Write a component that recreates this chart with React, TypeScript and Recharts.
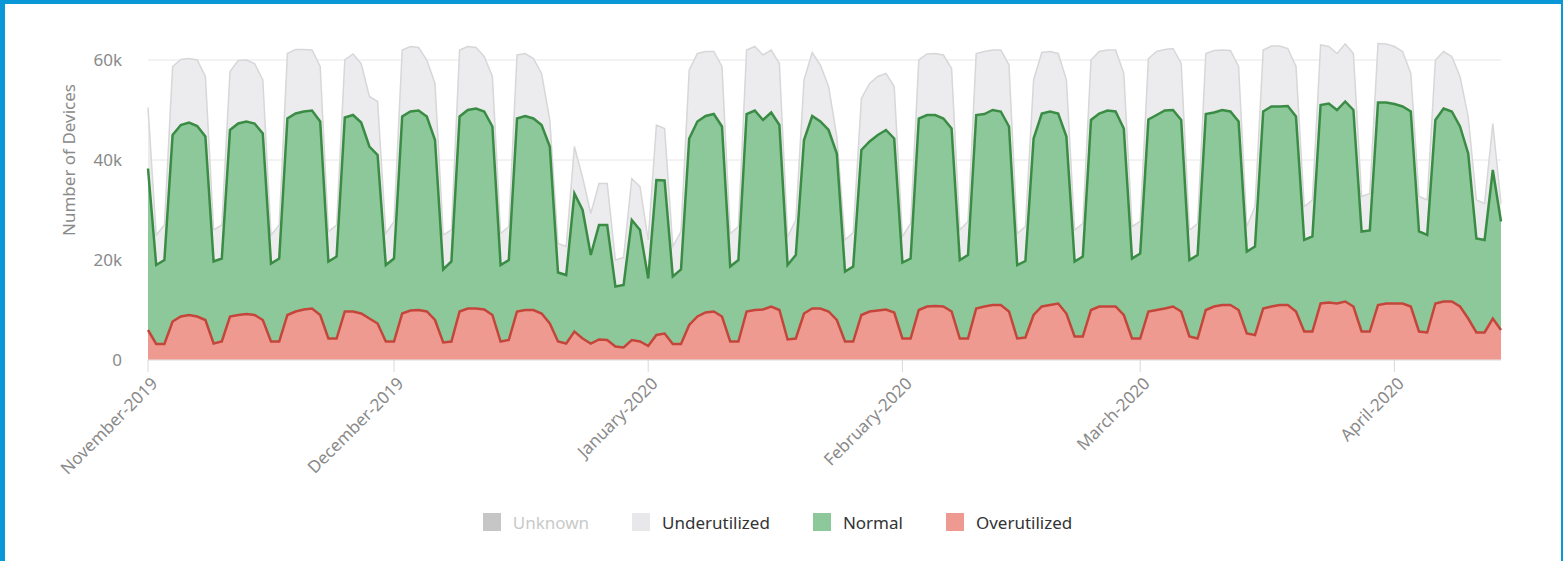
import { Area, AreaChart, CartesianGrid, Label, Legend, XAxis, YAxis } from "recharts";

// one point per day, 1 Nov 2019 .. 14 Apr 2020 (index = days since 1 Nov)
const MONTH_TICKS = [0, 30, 61, 92, 121, 152];
const MONTH_LABELS = [
  "November-2019",
  "December-2019",
  "January-2020",
  "February-2020",
  "March-2020",
  "April-2020",
];
const Y_TICKS = [0, 20000, 40000, 60000];

// thousands of devices per day
const OVERUTILIZED = [
  6.0, 3.2, 3.2, 7.7, 8.7, 9.0, 8.7, 8.0, 3.3, 3.7, 8.7, 9.0, 9.2, 9.0, 8.0, 3.7, 3.7, 9.0, 9.7, 10.1,
  10.3, 9.0, 4.3, 4.3, 9.7, 9.7, 9.3, 8.3, 7.3, 3.7, 3.7, 9.3, 9.9, 10.0, 9.7, 8.0, 3.5, 3.7, 9.7, 10.3,
  10.3, 10.1, 9.0, 3.7, 4.0, 9.7, 10.0, 10.0, 9.3, 7.3, 3.7, 3.3, 5.7, 4.3, 3.3, 4.1, 4.0, 2.7, 2.5, 4.0,
  3.7, 2.8, 5.0, 5.3, 3.2, 3.2, 7.0, 8.7, 9.5, 9.7, 8.7, 3.7, 3.7, 9.7, 10.0, 10.1, 10.7, 10.0, 4.1, 4.3,
  9.3, 10.3, 10.3, 9.7, 8.0, 3.7, 3.7, 9.0, 9.7, 9.9, 10.1, 9.5, 4.3, 4.3, 10.0, 10.7, 10.8, 10.7, 9.7, 4.3,
  4.3, 10.3, 10.7, 11.0, 11.0, 9.7, 4.3, 4.5, 9.0, 10.7, 11.0, 11.3, 9.3, 4.7, 4.7, 10.0, 10.7, 10.7, 10.7, 9.0,
  4.3, 4.3, 9.7, 10.0, 10.3, 10.7, 9.7, 4.7, 4.3, 10.0, 10.7, 11.0, 11.0, 10.0, 5.3, 5.0, 10.3, 10.7, 11.0, 11.0,
  9.7, 5.7, 5.7, 11.3, 11.5, 11.3, 11.7, 10.7, 5.7, 5.7, 11.0, 11.3, 11.3, 11.3, 10.7, 5.7, 5.5, 11.3, 11.7, 11.7,
  10.7, 8.3, 5.5, 5.5, 8.3, 6.0,
];
const NORMAL = [
  32.3, 15.8, 16.8, 37.3, 38.3, 38.5, 38.1, 36.7, 16.4, 16.6, 37.3, 38.3, 38.5, 38.3, 37.3, 15.6, 16.6, 39.3, 39.6, 39.6,
  39.6, 38.7, 15.4, 16.4, 38.8, 39.3, 38.2, 34.4, 33.7, 15.3, 16.6, 39.4, 39.8, 39.9, 39.0, 36.0, 14.6, 16.0, 39.0, 39.7,
  40.0, 39.6, 37.7, 15.3, 16.0, 38.6, 38.8, 38.3, 37.7, 35.4, 13.8, 13.7, 27.6, 25.7, 17.7, 22.9, 23.0, 12.0, 12.5, 24.0,
  22.3, 13.5, 31.0, 30.6, 13.5, 14.9, 37.3, 39.0, 39.3, 39.5, 38.0, 15.0, 16.3, 39.5, 39.9, 37.9, 38.8, 37.0, 14.9, 16.7,
  34.7, 38.5, 37.4, 36.3, 33.3, 14.0, 15.0, 33.0, 34.0, 35.1, 35.9, 34.8, 15.2, 16.0, 38.3, 38.3, 38.2, 37.6, 36.6, 15.7,
  16.7, 38.7, 38.5, 39.0, 38.7, 37.0, 14.7, 15.3, 35.3, 38.6, 38.7, 38.0, 35.4, 15.0, 16.0, 38.0, 38.6, 39.2, 39.0, 37.3,
  16.0, 17.0, 38.4, 39.0, 39.6, 39.3, 38.3, 15.3, 16.7, 39.2, 38.8, 39.0, 38.7, 37.7, 16.4, 17.7, 39.4, 40.0, 39.7, 39.8,
  39.0, 18.3, 19.0, 39.7, 39.8, 38.7, 40.0, 39.3, 20.0, 20.2, 40.5, 40.2, 39.9, 39.4, 39.0, 20.0, 19.5, 36.7, 38.6, 38.0,
  36.0, 33.0, 18.8, 18.5, 29.7, 21.7,
];
const UNDERUTILIZED = [
  12.2, 6.0, 7.0, 13.7, 13.1, 12.8, 13.2, 12.0, 6.3, 6.7, 11.7, 12.6, 12.3, 12.0, 10.7, 5.7, 6.7, 13.0, 12.8, 12.4,
  12.1, 11.0, 6.0, 6.3, 11.5, 12.2, 11.8, 10.0, 10.7, 6.3, 7.4, 13.3, 13.0, 12.6, 11.3, 11.3, 6.9, 6.3, 13.3, 12.7,
  12.2, 11.0, 10.0, 6.3, 6.7, 12.7, 12.5, 12.0, 10.3, 5.3, 5.8, 5.7, 9.4, 6.5, 8.3, 8.3, 8.3, 5.3, 5.5, 8.3,
  8.7, 7.7, 11.0, 10.4, 6.0, 7.6, 13.7, 13.6, 12.9, 12.5, 12.0, 6.6, 6.7, 12.8, 12.8, 13.0, 12.5, 12.3, 5.7, 7.0,
  12.0, 12.7, 11.3, 8.7, 3.4, 6.3, 6.8, 10.3, 11.6, 11.7, 11.3, 10.4, 5.2, 7.0, 11.7, 12.2, 12.3, 12.7, 12.0, 6.0,
  6.7, 12.3, 12.5, 12.0, 12.3, 12.3, 6.3, 6.9, 11.7, 12.2, 12.0, 12.0, 11.3, 6.3, 6.6, 12.0, 12.4, 12.1, 12.3, 11.0,
  6.4, 6.4, 12.2, 12.7, 12.2, 12.3, 11.3, 6.0, 6.3, 12.1, 12.4, 12.0, 12.2, 11.0, 5.0, 8.0, 12.3, 12.1, 12.1, 11.5,
  10.0, 6.7, 7.3, 12.0, 11.4, 11.3, 11.5, 11.3, 7.0, 7.4, 11.8, 11.7, 11.5, 11.0, 7.6, 7.0, 7.0, 12.0, 11.4, 11.0,
  10.0, 7.4, 7.7, 7.3, 9.3, 3.6,
];

const LEGEND_ITEMS = [
  { name: "Unknown", swatch: "#c6c6c6", text: "#c9c9c9" },
  { name: "Underutilized", swatch: "#e8e8ea", text: "#333333" },
  { name: "Normal", swatch: "#8dc89b", text: "#333333" },
  { name: "Overutilized", swatch: "#ee9a91", text: "#333333" },
];

const FONT = "'Noto Sans', sans-serif";
const AXIS_TEXT = "#8a8a8a";

const data = OVERUTILIZED.map((over, day) => ({
  day,
  over: over * 1000,
  normal: NORMAL[day] * 1000,
  under: UNDERUTILIZED[day] * 1000,
}));

function MonthTick({ x, y, payload }: any) {
  const label = MONTH_LABELS[MONTH_TICKS.indexOf(payload.value)] ?? "";
  return (
    <text
      x={x + 2}
      y={y + 2}
      dy="0.72em"
      transform={`rotate(-45, ${x + 2}, ${y + 2})`}
      textAnchor="end"
      fill={AXIS_TEXT}
      fontSize={17}
      fontFamily={FONT}
    >
      {label}
    </text>
  );
}

function DeviceLegend() {
  return (
    <div
      style={{
        height: 30,
        display: "flex",
        justifyContent: "center",
        alignItems: "center",
        gap: 43,
        fontFamily: FONT,
        fontSize: 17,
      }}
    >
      {LEGEND_ITEMS.map((item) => (
        <span key={item.name} style={{ display: "inline-flex", alignItems: "center", gap: 12 }}>
          <span style={{ width: 18, height: 18, background: item.swatch, display: "inline-block" }} />
          <span style={{ color: item.text }}>{item.name}</span>
        </span>
      ))}
    </div>
  );
}

export default function App() {
  return (
    <div style={{ position: "fixed", top: 0, left: 0, width: 1563, height: 561, background: "#fff" }}>
      <AreaChart
        width={1563}
        height={561}
        data={data}
        margin={{ top: 40, right: 62, left: 0, bottom: 24 }}
      >
        <CartesianGrid stroke="#e6e6e6" vertical={false} horizontalValues={Y_TICKS} />
        <XAxis
          dataKey="day"
          type="number"
          domain={[0, 165]}
          ticks={MONTH_TICKS}
          interval={0}
          height={147}
          tickSize={12}
          tickLine={{ stroke: "#d8d8d8" }}
          axisLine={{ stroke: "#e6e6e6" }}
          tick={<MonthTick />}
        />
        <YAxis
          width={148}
          domain={[0, 64000]}
          ticks={Y_TICKS}
          axisLine={false}
          tickLine={false}
          tickMargin={20}
          tick={{ fill: AXIS_TEXT, fontSize: 17, fontFamily: FONT }}
          tickFormatter={(v) => (v === 0 ? "0" : `${v / 1000}k`)}
        >
          <Label
            content={() => (
              <text
                x={75}
                y={160}
                transform="rotate(-90, 75, 160)"
                textAnchor="middle"
                fill={AXIS_TEXT}
                fontSize={17}
                fontFamily={FONT}
              >
                Number of Devices
              </text>
            )}
          />
        </YAxis>
        <Legend verticalAlign="bottom" content={<DeviceLegend />} wrapperStyle={{ left: 27 }} />
        <Area
          type="linear"
          dataKey={(d: any) => d.over + d.normal + d.under}
          name="Underutilized"
          stroke="#d7d7d9"
          strokeWidth={1.5}
          fill="#ececee"
          fillOpacity={1}
          isAnimationActive={false}
        />
        <Area
          type="linear"
          dataKey={(d: any) => d.over + d.normal}
          name="Normal"
          stroke="#3a8c45"
          strokeWidth={2.5}
          fill="#8dc89b"
          fillOpacity={1}
          isAnimationActive={false}
        />
        <Area
          type="linear"
          dataKey="over"
          name="Overutilized"
          stroke="#c4463b"
          strokeWidth={2.5}
          fill="#ee9a91"
          fillOpacity={1}
          isAnimationActive={false}
        />
      </AreaChart>
      <div style={{ position: "absolute", left: 0, top: 0, width: 5, height: 561, background: "#0a97d7" }} />
      <div style={{ position: "absolute", left: 0, top: 0, width: 1563, height: 4, background: "#0a97d7" }} />
      <div style={{ position: "absolute", right: 0, top: 0, width: 2, height: 561, background: "#0a97d7" }} />
    </div>
  );
}
